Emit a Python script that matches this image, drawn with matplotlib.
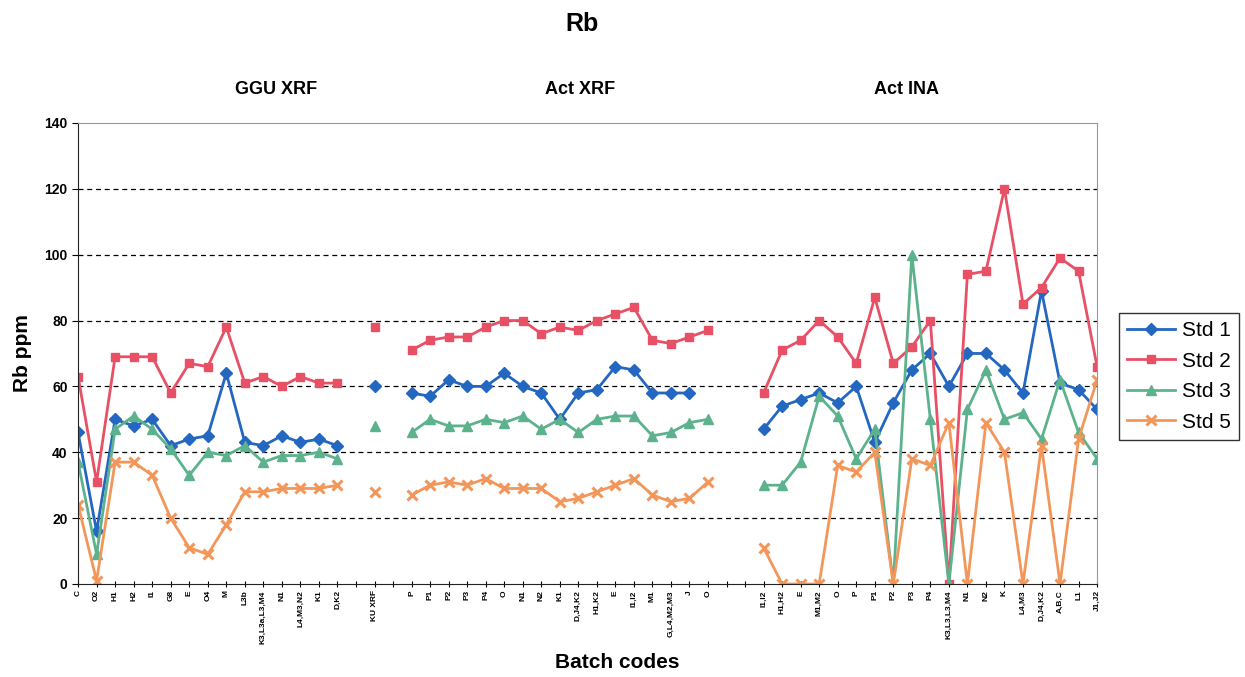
import numpy as np
import matplotlib
matplotlib.use("Agg")
import matplotlib.pyplot as plt

plt.rcParams['font.family'] = ['Liberation Sans', 'DejaVu Sans']

# batch codes per group
ggu_codes = ['C', 'O2', 'H1', 'H2', 'I1', 'G8', 'E', 'O4', 'M', 'L3b',
             'K3,L3a,L3,M4', 'N1', 'L4,M3,N2', 'K1', 'D,K2']
ku_codes = ['KU XRF']
actxrf_codes = ['P', 'P1', 'P2', 'P3', 'P4', 'O', 'N1', 'N2', 'K1', 'D,J4,K2',
                'H1,K2', 'E', 'I1,I2', 'M1', 'G,L4,M2,M3', 'J', 'O']
actina_codes = ['I1,I2', 'H1,H2', 'E', 'M1,M2', 'O', 'P', 'P1', 'P2', 'P3', 'P4',
                'K3,L3,L3,M4', 'N1', 'N2', 'K', 'L4,M3', 'D,J4,K2', 'A,B,C', 'L1', 'J1,J2']

# Rb ppm values (None = no value)
std1_ggu = [46, 16, 50, 48, 50, 42, 44, 45, 64, 43, 42, 45, 43, 44, 42]
std2_ggu = [63, 31, 69, 69, 69, 58, 67, 66, 78, 61, 63, 60, 63, 61, 61]
std3_ggu = [37, 9, 47, 51, 47, 41, 33, 40, 39, 42, 37, 39, 39, 40, 38]
std5_ggu = [24, 1, 37, 37, 33, 20, 11, 9, 18, 28, 28, 29, 29, 29, 30]

std1_ku = [60]
std2_ku = [78]
std3_ku = [48]
std5_ku = [28]

std1_xrf = [58, 57, 62, 60, 60, 64, 60, 58, 50, 58, 59, 66, 65, 58, 58, 58, None]
std2_xrf = [71, 74, 75, 75, 78, 80, 80, 76, 78, 77, 80, 82, 84, 74, 73, 75, 77]
std3_xrf = [46, 50, 48, 48, 50, 49, 51, 47, 50, 46, 50, 51, 51, 45, 46, 49, 50]
std5_xrf = [27, 30, 31, 30, 32, 29, 29, 29, 25, 26, 28, 30, 32, 27, 25, 26, 31]

std1_ina = [47, 54, 56, 58, 55, 60, 43, 55, 65, 70, 60, 70, 70, 65, 58, 89, 61, 59, 53]
std2_ina = [58, 71, 74, 80, 75, 67, 87, 67, 72, 80, 0, 94, 95, 120, 85, 90, 99, 95, 66]
std3_ina = [30, 30, 37, 57, 51, 38, 47, 0, 100, 50, 0, 53, 65, 50, 52, 44, 62, 46, 38]
std5_ina = [11, 0, 0, 0, 36, 34, 40, 0, 38, 36, 49, 0, 49, 40, 0, 42, 0, 44, 62]


def join(ggu, ku, xrf, ina):
    # one empty slot between groups, two before Act INA
    vals = ggu + [None] + ku + [None] + xrf + [None, None] + ina
    return np.array([np.nan if v is None else v for v in vals], dtype=float)


labels = ggu_codes + [''] + ku_codes + [''] + actxrf_codes + ['', ''] + actina_codes
x = np.arange(len(labels))

series = [
    ('Std 1', join(std1_ggu, std1_ku, std1_xrf, std1_ina), '#2467c0', 'D', 6),
    ('Std 2', join(std2_ggu, std2_ku, std2_xrf, std2_ina), '#e85066', 's', 6),
    ('Std 3', join(std3_ggu, std3_ku, std3_xrf, std3_ina), '#5db28e', '^', 7),
    ('Std 5', join(std5_ggu, std5_ku, std5_xrf, std5_ina), '#f3965a', 'x', 7),
]

fig = plt.figure(figsize=(12.45, 6.77), dpi=100)
ax = fig.add_axes([0.0627, 0.1374, 0.8185, 0.681])

for name, vals, col, mk, ms in series:
    if mk == 'x':
        ax.plot(x, vals, color=col, lw=2, marker=mk, ms=ms, mew=2.2, label=name)
    else:
        ax.plot(x, vals, color=col, lw=2, marker=mk, ms=ms, mec=col, mfc=col, label=name)

ax.set_xlim(0, len(labels) - 1)
ax.set_ylim(0, 140)
ax.set_yticks(np.arange(0, 141, 20))
for yv in range(20, 140, 20):
    ax.axhline(yv, color='black', lw=0.9, ls=(0, (4, 3)), zorder=0)

ax.set_xticks(x)
ax.set_xticklabels(labels, rotation=90, fontsize=6, fontweight='bold')
ax.tick_params(axis='x', direction='inout', length=5, width=0.8, pad=2)
ax.tick_params(axis='y', direction='out', length=4, width=0.8, labelsize=10)
for t in ax.get_yticklabels():
    t.set_fontweight('bold')

ax.spines['left'].set_color('#222222')
ax.spines['bottom'].set_color('#222222')
ax.spines['top'].set_color('#8a9aa8')
ax.spines['right'].set_color('#8a9aa8')
ax.spines['top'].set_linewidth(0.8)
ax.spines['right'].set_linewidth(0.8)

ax.set_ylabel('Rb ppm', fontsize=15, fontweight='bold', labelpad=9)
fig.text(617 / 1245, 1 - 662 / 677, 'Batch codes', fontsize=15, fontweight='bold',
         ha='center', va='center')
fig.text(582 / 1245, 1 - 24 / 677, 'Rb', fontsize=18, fontweight='bold',
         ha='center', va='center')
for gx, gname in [(276, 'GGU XRF'), (580, 'Act XRF'), (907, 'Act INA')]:
    fig.text(gx / 1245, 1 - 90 / 677, gname, fontsize=13, fontweight='bold',
             ha='center', va='center')

leg = fig.legend(loc='upper left', bbox_to_anchor=(1119 / 1245, 1 - 313 / 677),
                 borderaxespad=0, fontsize=15, frameon=True, fancybox=False,
                 edgecolor='black', handlelength=2.3, borderpad=0.4,
                 labelspacing=0.55, handletextpad=0.3)
leg.get_frame().set_linewidth(1)

fig.savefig('out.png', dpi=100)
